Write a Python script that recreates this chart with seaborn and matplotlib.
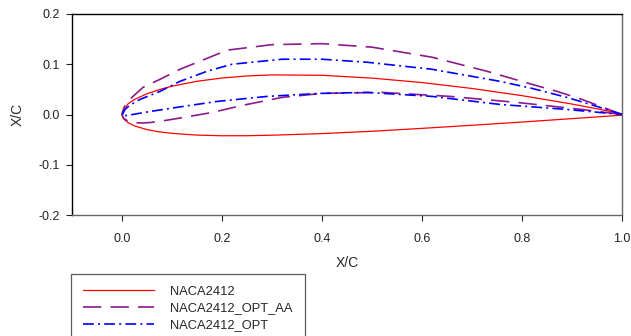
import matplotlib
matplotlib.use("Agg")
import matplotlib.pyplot as plt
import seaborn as sns
import pandas as pd

# ---- data ----
# NACA2412: upper surface TE -> LE, then lower surface LE -> TE
naca_x = [1.0, 0.95, 0.9, 0.8, 0.7, 0.6, 0.5, 0.4, 0.3, 0.25, 0.2, 0.15, 0.1, 0.075, 0.05, 0.025, 0.0125, 0.005, 0.0015, 0.0,
          0.0015, 0.005, 0.0125, 0.025, 0.05, 0.075, 0.1, 0.15, 0.2, 0.25, 0.3, 0.4, 0.5, 0.6, 0.7, 0.8, 0.9, 0.95, 1.0]
naca_y = [0.0013, 0.0114, 0.0208, 0.0375, 0.0518, 0.0636, 0.0724, 0.0780, 0.0788, 0.0767, 0.0726, 0.0661, 0.0563, 0.0496, 0.0413, 0.0299, 0.0215, 0.0130, 0.0070, 0.0,
          -0.0055, -0.0105, -0.0165, -0.0227, -0.0301, -0.0346, -0.0375, -0.0410, -0.0423, -0.0422, -0.0412, -0.0380, -0.0334, -0.0276, -0.0214, -0.0150, -0.0082, -0.0048, -0.0013]

# NACA2412_OPT_AA
aa_x = [1.0, 0.96, 0.92, 0.87, 0.82, 0.73, 0.62, 0.5, 0.4, 0.3, 0.21, 0.156, 0.116, 0.076, 0.042, 0.022, 0.01, 0.004, 0.0,
        0.003, 0.01, 0.022, 0.04, 0.056, 0.08, 0.122, 0.18, 0.24, 0.32, 0.4, 0.52, 0.656, 0.79, 0.92, 1.0]
aa_y = [0.0, 0.015, 0.030, 0.046, 0.060, 0.086, 0.114, 0.134, 0.141, 0.139, 0.128, 0.106, 0.090, 0.070, 0.054, 0.036, 0.024, 0.014, 0.0,
        -0.007, -0.012, -0.016, -0.017, -0.016, -0.013, -0.006, 0.004, 0.018, 0.034, 0.042, 0.044, 0.036, 0.024, 0.010, 0.0]

# NACA2412_OPT
opt_x = [1.0, 0.95, 0.89, 0.82, 0.756, 0.62, 0.49, 0.4, 0.32, 0.22, 0.17, 0.116, 0.076, 0.036, 0.015, 0.006, 0.0,
         0.01, 0.056, 0.122, 0.19, 0.29, 0.396, 0.49, 0.62, 0.756, 0.89, 1.0]
opt_y = [0.0, 0.016, 0.034, 0.052, 0.066, 0.090, 0.104, 0.110, 0.110, 0.100, 0.086, 0.066, 0.046, 0.030, 0.018, 0.010, -0.002,
         -0.002, 0.006, 0.016, 0.026, 0.036, 0.042, 0.044, 0.036, 0.020, 0.010, 0.0]

labels = ["NACA2412", "NACA2412_OPT_AA", "NACA2412_OPT"]
colors = ["#ff0000", "#8b1a8b", "#0000ff"]
xticks = [0.0, 0.2, 0.4, 0.6, 0.8, 1.0]
yticks = [-0.2, -0.1, 0.0, 0.1, 0.2]

sns.set_theme(style="white")
plt.rcParams["font.family"] = ["Liberation Sans", "DejaVu Sans"]

fig = plt.figure(figsize=(6.31, 3.36), dpi=100)
ax = fig.add_axes([72 / 631, 1 - 215 / 336, 550 / 631, 201 / 336])

series = [(naca_x, naca_y), (aa_x, aa_y), (opt_x, opt_y)]
styles = [dict(linestyle="-", linewidth=0.9),
          dict(linestyle=(0, (11, 5.5)), linewidth=1.2),
          dict(linestyle=(0, (6.5, 2.5, 1.2, 2.5)), linewidth=1.2)]
for (xs, ys), lab, col, st in zip(series, labels, colors, styles):
    df = pd.DataFrame({"x": xs, "y": ys})
    sns.lineplot(data=df, x="x", y="y", sort=False, estimator=None, ax=ax,
                 color=col, label=lab, **st)

ax.set_xlim(-0.1, 1.0)
ax.set_ylim(-0.2, 0.2)
ax.set_xticks(xticks)
ax.set_xticklabels([f"{v:.1f}" for v in xticks])
ax.set_yticks(yticks)
ax.set_yticklabels([f"{v:.1f}" for v in yticks])
ax.tick_params(axis="x", direction="out", length=4, width=0.8, pad=9, labelsize=9, colors="#222222")
ax.tick_params(axis="y", direction="out", length=4, width=0.8, pad=5, labelsize=9, colors="#222222")
ax.tick_params(axis="both", which="both", bottom=True, left=True, top=False, right=False)
for s in ["top", "left"]:
    ax.spines[s].set_color("black")
    ax.spines[s].set_linewidth(1.0)
for s in ["bottom", "right"]:
    ax.spines[s].set_color("#666666")
    ax.spines[s].set_linewidth(1.0)
ax.set_xlabel("X/C", fontsize=10, labelpad=8)
ax.set_ylabel("X/C", fontsize=10, labelpad=10)

handles, labs = ax.get_legend_handles_labels()
ax.get_legend().remove()
leg = fig.legend(handles, labs, loc="upper left", bbox_to_anchor=(71 / 631, 1 - 274 / 336),
                 bbox_transform=fig.transFigure, frameon=True, fancybox=False,
                 fontsize=9.3, handlelength=5.5, handletextpad=1.3, labelspacing=0.36,
                 borderpad=0.9, borderaxespad=0.0)
leg.get_frame().set_edgecolor("#333333")
leg.get_frame().set_linewidth(0.9)

fig.savefig("out.png", dpi=100)
